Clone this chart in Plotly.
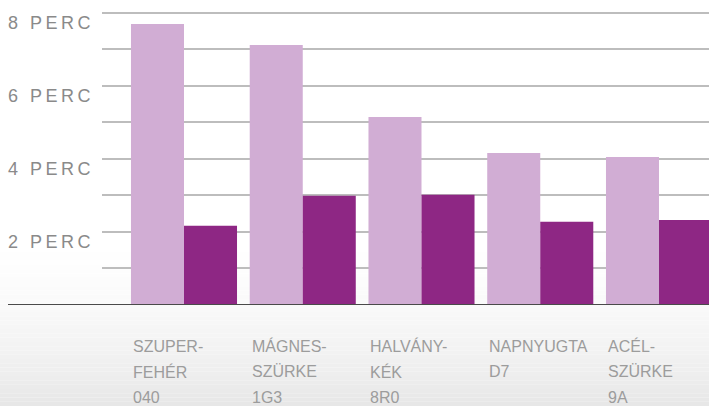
import plotly.graph_objects as go

# ---- data ----
categories = ["SZUPER-FEHÉR 040", "MÁGNES-SZÜRKE 1G3", "HALVÁNY-KÉK 8R0", "NAPNYUGTA D7", "ACÉL-SZÜRKE 9A"]
category_lines = [
    ["SZUPER-", "FEHÉR", "040"],
    ["MÁGNES-", "SZÜRKE", "1G3"],
    ["HALVÁNY-", "KÉK", "8R0"],
    ["NAPNYUGTA", "D7", ""],
    ["ACÉL-", "SZÜRKE", "9A"],
]
series_light = [7.69, 7.12, 5.15, 4.16, 4.05]
series_dark = [2.17, 2.99, 3.02, 2.28, 2.33]
y_tick_values = [2, 4, 6, 8]
y_tick_labels = ["2 PERC", "4 PERC", "6 PERC", "8 PERC"]

# ---- style ----
W, H = 709, 406
M_L, M_R, M_T, M_B = 102, 0, 0, 101
BARGAP = 0.107
FONT = "Liberation Sans, Arial, Helvetica, sans-serif"
LIGHT = "#D1ADD4"
DARK = "#8E2784"

x_idx = list(range(len(categories)))

fig = go.Figure()
fig.add_trace(go.Bar(x=x_idx, y=series_light, marker=dict(color=LIGHT, line=dict(width=0)),
                     name="1", showlegend=False))
fig.add_trace(go.Bar(x=x_idx, y=series_dark, marker=dict(color=DARK, line=dict(width=0)),
                     name="2", showlegend=False))

# background gradient bands (decorative)
plot_h = H - M_T - M_B
shapes = []
n_bands = 40
g_top_px, g_bot_px = 235, H
for k in range(n_bands):
    p0 = g_top_px + (g_bot_px - g_top_px) * k / n_bands
    p1 = g_top_px + (g_bot_px - g_top_px) * (k + 1) / n_bands
    t = (k + 0.5) / n_bands
    c = int(round(255 - 24 * t ** 1.6))
    shapes.append(dict(type="rect", xref="paper", yref="paper",
                       x0=-M_L / (W - M_L - M_R), x1=1,
                       y0=(H - M_B - p1) / plot_h, y1=(H - M_B - p0) / plot_h,
                       fillcolor=f"rgb({c},{c},{c})", line=dict(width=0), layer="below"))
# baseline
shapes.append(dict(type="line", xref="paper", yref="y",
                   x0=-(M_L - 8) / (W - M_L - M_R), x1=1, y0=0, y1=0,
                   line=dict(color="#4a4a4a", width=2.2), layer="above"))

annotations = []
for i, lines in enumerate(category_lines):
    for j, line in enumerate(lines):
        if not line:
            continue
        annotations.append(dict(
            x=i - (1 - BARGAP) / 2, xref="x", xanchor="left",
            y=0, yref="y", yanchor="middle", yshift=-(41 + 25.5 * j),
            text=line, showarrow=False,
            font=dict(family=FONT, size=16, color="#9c9c9c"),
        ))

fig.update_layout(
    width=W, height=H,
    margin=dict(l=M_L, r=M_R, t=M_T, b=M_B, pad=0),
    paper_bgcolor="white", plot_bgcolor="rgba(0,0,0,0)",
    barmode="group", bargap=BARGAP, bargroupgap=0,
    shapes=shapes, annotations=annotations,
    xaxis=dict(range=[-0.6905, 4.421], showticklabels=False, showgrid=False,
               zeroline=False, showline=False, ticks="", fixedrange=True),
    yaxis=dict(range=[0, 8.35], tickmode="array", tickvals=y_tick_values, ticktext=y_tick_labels,
               ticks="", ticklabelshift=10, ticklabelstandoff=7, ticklabeloverflow="allow",
               tickfont=dict(family=FONT, size=18, color="#8a8a8a"),
               showgrid=True, gridcolor="#bdbdbd", gridwidth=1.5,
               minor=dict(tickmode="linear", dtick=1, showgrid=True, gridcolor="#bdbdbd", gridwidth=1.5, ticks=""),
               zeroline=False, showline=False, fixedrange=True),
)

post = ("document.body.style.margin='0';document.body.style.overflow='hidden';"
        "document.querySelectorAll('.ytick text').forEach(function(t){"
        "t.setAttribute('letter-spacing','3.5px');});")
fig.write_html("out.html", post_script=post, config={"displayModeBar": False})
